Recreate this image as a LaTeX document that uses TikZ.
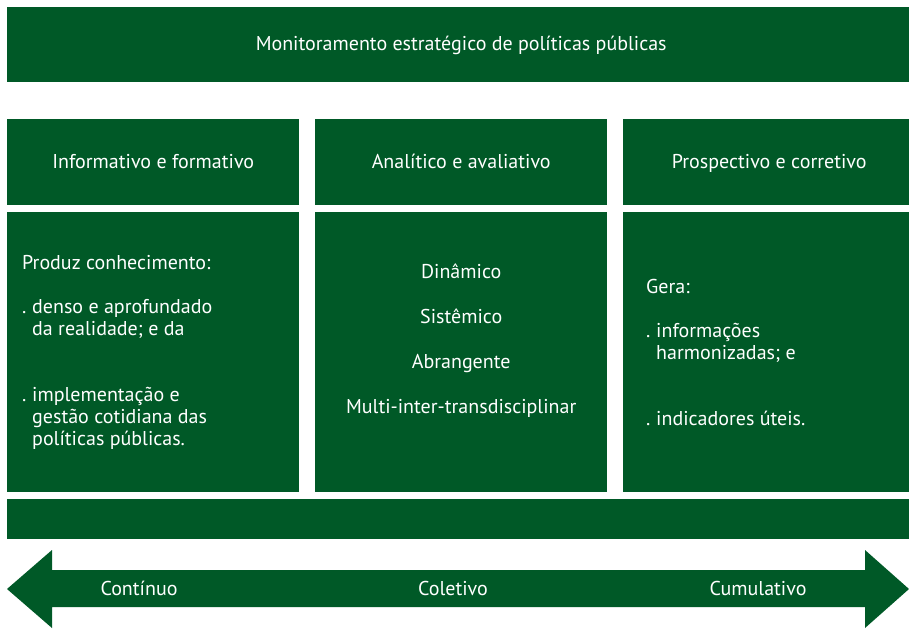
\documentclass[tikz,border=0pt]{standalone}
\usepackage{fontspec}
\setmainfont{PT Sans}
\usetikzlibrary{positioning}
\definecolor{verde}{RGB}{0,89,39}
\newcommand{\ponto}{\makebox[10pt][l]{.}}
\tikzset{
  caixa/.style={fill=verde, text=white, inner sep=0pt, anchor=north west},
  texto/.style={text=white, inner sep=0pt, align=left, font=\fontsize{20}{22}\selectfont},
  rotulo/.style={text=white, inner sep=0pt, text height=14pt, text depth=2pt, font=\fontsize{20}{22}\selectfont}
}

\begin{document}
\begin{tikzpicture}[x=1pt, y=-1pt]
				\clip (0,0) rectangle (909,630);
				
				% Draw the top banner
				\node[caixa, minimum width=908pt, minimum height=75pt] (topo) at (7,7) {};
				\node[rotulo] at (topo.center) {Monitoramento estratégico de políticas públicas};
				
				% Draw the three headers
				\node[caixa, minimum width=292pt, minimum height=86pt] (infA) at (7,119) {};
				\node[caixa, minimum width=292pt, minimum height=86pt] (infB) at (315,119) {};
				\node[caixa, minimum width=292pt, minimum height=86pt] (infC) at (623,119) {};
				\node[rotulo] at (infA.center) {Informativo e formativo};
				\node[rotulo] at (infB.center) {Analítico e avaliativo};
				\node[rotulo] at (infC.center) {Prospectivo e corretivo};
				
				% Draw the three bodies
				\node[caixa, minimum width=292pt, minimum height=280pt] (corpoA) at (7,212) {};
				\node[caixa, minimum width=292pt, minimum height=280pt] (corpoB) at (315,212) {};
				\node[caixa, minimum width=292pt, minimum height=280pt] (corpoC) at (623,212) {};
				\node[texto, anchor=west] at ([xshift=15pt]corpoA.west) {Produz conhecimento:\\[22pt]
					\ponto denso e aprofundado\\
					\hspace{10pt}da realidade; e da\\[44pt]
					\ponto implementação e\\
					\hspace{10pt}gestão cotidiana das\\
					\hspace{10pt}políticas públicas.};
				\node[texto, align=center, font=\fontsize{20}{45}\selectfont] at ([yshift=12pt]corpoB.center) {Dinâmico\\Sistêmico\\Abrangente\\Multi-inter-transdisciplinar};
				\node[texto, anchor=west] at ([xshift=23pt]corpoC.west) {Gera:\\[22pt]
					\ponto informações\\
					\hspace{10pt}harmonizadas; e\\[44pt]
					\ponto indicadores úteis.};
				
				% Draw the bottom bar
				\node[caixa, minimum width=908pt, minimum height=40pt] (base) at (7,499) {};
				
				% Draw the double arrow
				\fill[verde] (7,589) -- (52,550) -- (52,570) -- (865,570) -- (865,550) -- (909,589)
					-- (865,628) -- (865,607) -- (52,607) -- (52,628) -- cycle;
				\node[rotulo] (continuo) at (139,589) {Contínuo};
				\node[rotulo] (coletivo) at (453,589) {Coletivo};
				\node[rotulo] (cumulativo) at (758,589) {Cumulativo};
\end{tikzpicture}
\end{document}
